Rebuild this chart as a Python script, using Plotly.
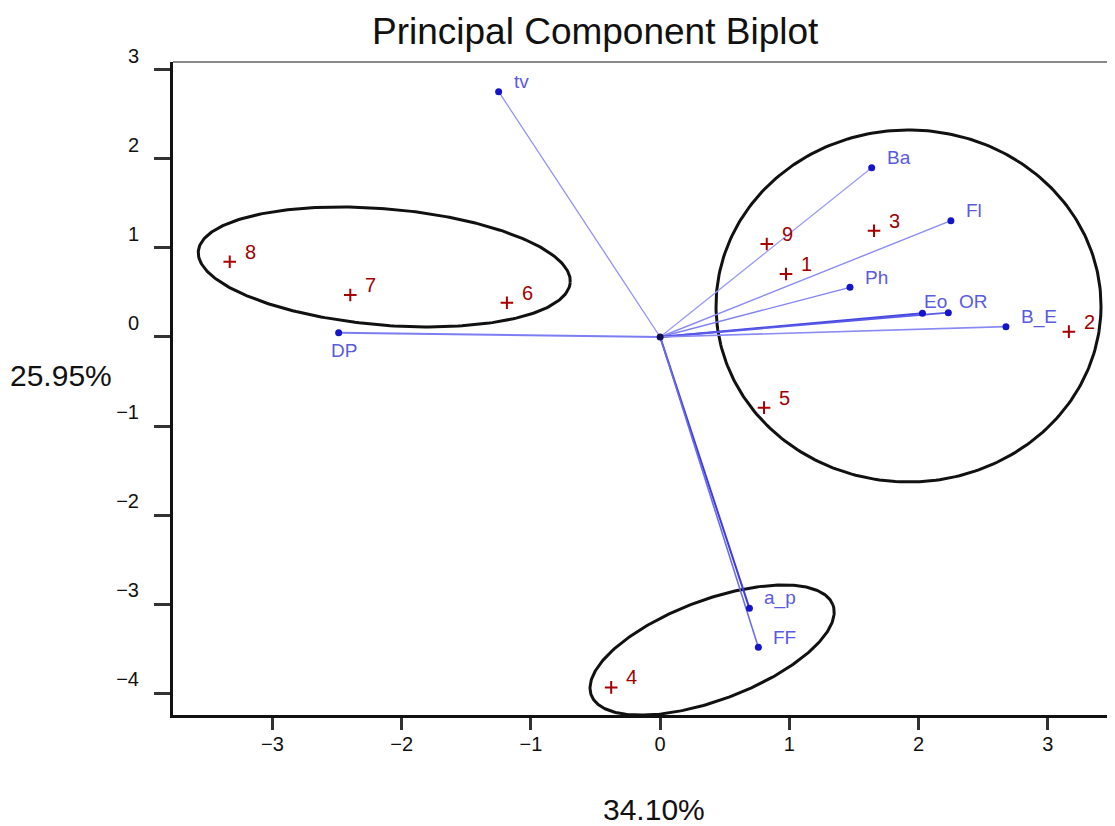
import numpy as np
import plotly.graph_objects as go

# ---- data ----
var_names = ["tv", "Ba", "Fl", "Ph", "Eo", "OR", "B_E", "DP", "a_p", "FF"]
var_pc1 = [-1.25, 1.637, 2.25, 1.469, 2.03, 2.23, 2.676, -2.488, 0.691, 0.760]
var_pc2 = [2.753, 1.90, 1.305, 0.557, 0.266, 0.273, 0.116, 0.048, -3.045, -3.483]

obs_names = ["1", "2", "3", "4", "5", "6", "7", "8", "9"]
obs_pc1 = [0.974, 3.163, 1.655, -0.379, 0.804, -1.186, -2.398, -3.331, 0.825]
obs_pc2 = [0.707, 0.060, 1.193, -3.932, -0.793, 0.385, 0.471, 0.845, 1.044]

x_ticks = [-3, -2, -1, 0, 1, 2, 3]
y_ticks = [3, 2, 1, 0, -1, -2, -3, -4]
x_title = "34.10%"
y_title = "25.95%"
title = "Principal Component Biplot"

# group ellipses: centre (data), semi-axes (screen px), tilt (deg)
ell_cx = [-2.135, 1.922, 0.402]
ell_cy = [0.786, 0.348, -3.513]
ell_a = [186.6, 192.5, 129.0]
ell_b = [58.1, 176.0, 50.0]
ell_deg = [-4.83, 0.0, 20.5]

# ---- layout geometry (page has an 8px body margin) ----
OFF = 8
W, H = 1115 - OFF, 826 - OFF
ML, MR, MT, MB = 173 - OFF, 0, 62 - OFF, H - (715 - OFF)
PW, PH = W - ML - MR, H - MT - MB
xr = [-3.77, 3.52]
yr = [-4.242, 3.086]
sx = PW / (xr[1] - xr[0])
sy = PH / (yr[1] - yr[0])


def px2paper(px, py):
    """page pixel -> paper coordinates"""
    return (px - OFF - ML) / PW, 1 - (py - OFF - MT) / PH


fig = go.Figure()

# ellipses
t = np.linspace(0, 2 * np.pi, 300)
for cx, cy, a, b, d in zip(ell_cx, ell_cy, ell_a, ell_b, ell_deg):
    th = np.deg2rad(d)
    px = a * np.cos(t) * np.cos(th) - b * np.sin(t) * np.sin(th)
    py = a * np.cos(t) * np.sin(th) + b * np.sin(t) * np.cos(th)
    fig.add_trace(go.Scatter(x=cx + px / sx, y=cy + py / sy, mode="lines",
                             line=dict(color="#111111", width=3),
                             hoverinfo="skip", showlegend=False))

# vectors
vstyle = {"tv": ("#9090f5", 1.3), "Ba": ("#9a9af7", 1.3), "Fl": ("#8a8af3", 1.4),
          "Ph": ("#8080f0", 1.4), "Eo": ("#4646e0", 2.0), "OR": ("#5a5ae8", 1.8),
          "B_E": ("#8a8af5", 1.6), "DP": ("#7c7cf3", 2.0), "a_p": ("#3c3ce0", 2.0),
          "FF": ("#6a6aee", 1.6)}
for n, x, y in zip(var_names, var_pc1, var_pc2):
    c, w = vstyle[n]
    fig.add_trace(go.Scatter(x=[0, x], y=[0, y], mode="lines",
                             line=dict(color=c, width=w),
                             hoverinfo="skip", showlegend=False))

fig.add_trace(go.Scatter(x=var_pc1, y=var_pc2, mode="markers",
                         marker=dict(color="#1414c8", size=7),
                         showlegend=False, text=var_names))
fig.add_trace(go.Scatter(x=[0], y=[0], mode="markers",
                         marker=dict(color="#101050", size=7),
                         showlegend=False, hoverinfo="skip"))
fig.add_trace(go.Scatter(x=obs_pc1, y=obs_pc2, mode="markers",
                         marker=dict(symbol="cross-thin", size=9,
                                     line=dict(color="#a80000", width=2)),
                         showlegend=False, text=obs_names))

annots = []
# labels
voff = {"Eo": ("left", 0, 12), "OR": ("left", 9, 11), "DP": ("center", 5, -18)}
for n, x, y in zip(var_names, var_pc1, var_pc2):
    anc, dx, dy = voff.get(n, ("left", 13, 10))
    annots.append(dict(x=x, y=y, text=n, showarrow=False, xanchor=anc,
                       yanchor="middle", xshift=dx, yshift=dy,
                       font=dict(family="Liberation Sans, Arial", size=19,
                                 color="#5a5ae2")))
for n, x, y in zip(obs_names, obs_pc1, obs_pc2):
    annots.append(dict(x=x, y=y, text=n, showarrow=False, xanchor="left",
                       yanchor="middle", xshift=13, yshift=10,
                       font=dict(family="Liberation Sans, Arial", size=20,
                                 color="#a00000")))

# axis titles and title
for txt, (cxp, cyp), size in [(x_title, (654, 809), 30),
                              (y_title, (61, 375), 30),
                              (title, (595, 32), 37)]:
    xp, yp = px2paper(cxp, cyp)
    annots.append(dict(xref="paper", yref="paper", x=xp, y=yp, text=txt,
                       showarrow=False, xanchor="center", yanchor="middle",
                       font=dict(family="Liberation Sans, Arial", size=size,
                                 color="#111")))

fig.update_layout(annotations=annots)

fig.add_shape(type="line", xref="paper", yref="paper", x0=0, x1=1, y0=1, y1=1,
              line=dict(color="#8a8a8a", width=2))

tickfont = dict(family="Liberation Sans Narrow, Arial Narrow, Liberation Sans",
                size=20, color="#111")


def fmt(v):
    return ("\u2212" + str(-v)) if v < 0 else str(v)


fig.update_xaxes(range=xr, tickvals=x_ticks, ticktext=[fmt(v) for v in x_ticks],
                 showgrid=False, zeroline=False, showline=True, linecolor="#111",
                 linewidth=3, ticks="outside", ticklen=12, tickwidth=3,
                 tickcolor="#333", tickfont=tickfont, ticklabelstandoff=-3)
fig.update_yaxes(range=yr, tickvals=y_ticks, ticktext=[fmt(v) for v in y_ticks],
                 showgrid=False, zeroline=False, showline=True, linecolor="#111",
                 linewidth=3, ticks="outside", ticklen=16, tickwidth=3,
                 tickcolor="#333", tickfont=tickfont, ticklabelstandoff=11,
                 ticklabelshift=-14)
fig.update_layout(width=W, height=H, margin=dict(l=ML, r=MR, t=MT, b=MB),
                  plot_bgcolor="white", paper_bgcolor="white", showlegend=False)

fig.write_html("out.html")
